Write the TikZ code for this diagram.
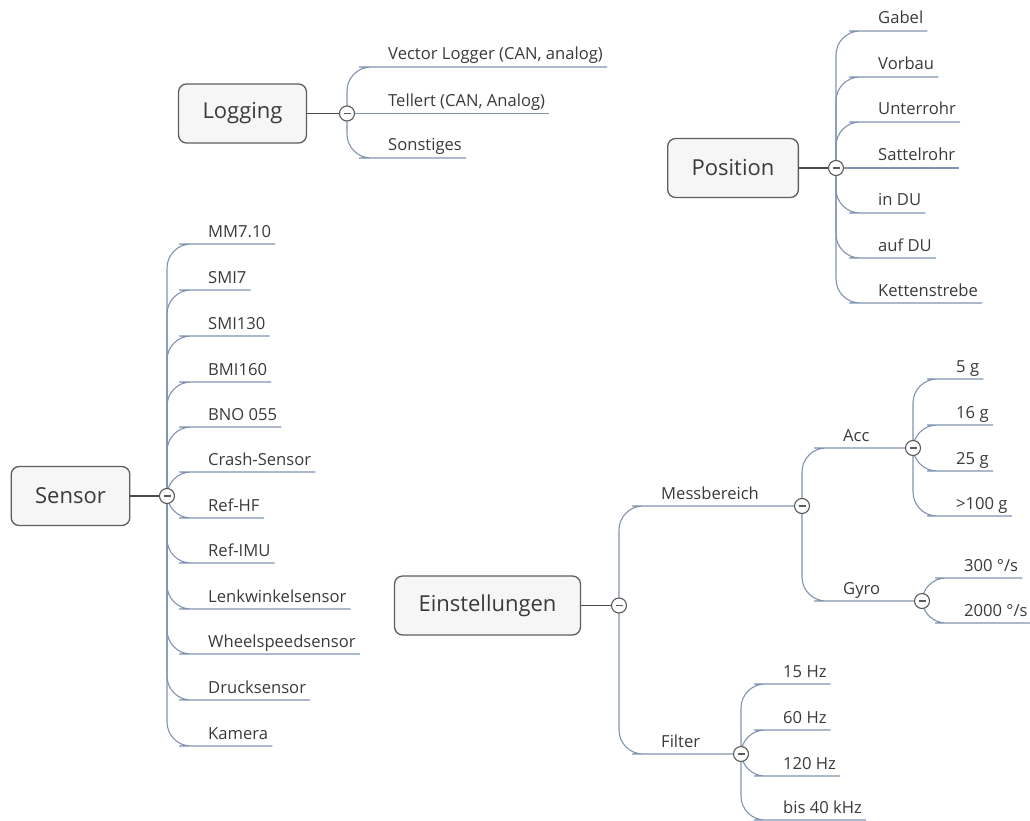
\documentclass[tikz,border=0pt]{standalone}
\usepackage{fontspec}
\setmainfont{Open Sans}
\usetikzlibrary{calc}
\definecolor{brc}{HTML}{7F93B0}
\definecolor{boxc}{HTML}{5E5E5E}
\definecolor{boxf}{HTML}{F6F6F6}
\definecolor{txt}{HTML}{3A3A3A}
\definecolor{mainc}{HTML}{4A4A4A}
\definecolor{togc}{HTML}{5A5A5A}
\newcommand\leaf[5]{%
  \node[lbl] (#1) at (#3,#4-7) {#5};
  \draw[br] (#2) |- ($(#1.base west)+(-5,7)$) -- ($(#1.base east)+(4,7)$);
}
\newcommand\leafh[5]{%
  \node[lbl] (#1) at (#3,#4-7) {#5};
  \draw[br] (#2) -- ($(#1.base west)+(-5,7)$) -- ($(#1.base east)+(4,7)$);
}
\begin{document}
\begin{tikzpicture}[x=1pt,y=-1pt,
  topic/.style={draw=boxc,fill=boxf,rounded corners=8pt,line width=1.3pt,
    font=\fontsize{22}{26}\selectfont,text=txt,minimum height=59pt,inner xsep=24pt},
  lbl/.style={font=\fontsize{16.6}{19}\selectfont,text=txt,inner sep=0pt,anchor=base west},
  br/.style={draw=brc,line width=1.1pt,rounded corners=24pt},
  mainln/.style={draw=mainc,line width=1.2pt},
  tog/.style={circle,draw=togc,fill=white,line width=1.1pt,minimum size=15pt,inner sep=0pt,
    path picture={\draw[togc,line width=1.5pt]
      ([xshift=-3.5pt]path picture bounding box.center) --
      ([xshift=3.5pt]path picture bounding box.center);}}
]
\useasboundingbox (0,0) rectangle (1030,821);

% ---------- main topics ----------
\node[topic] (log) at (242.5,113.5) {Logging};
\node[topic] (pos) at (733,168) {Position};
\node[topic] (sen) at (70.5,496) {Sensor};
\node[topic] (ein) at (487.5,605.5) {Einstellungen};

% ---------- toggle centres ----------
\coordinate (logT) at (347,113.5);
\coordinate (posT) at (836,168);
\coordinate (senT) at (167,496);
\coordinate (einT) at (619,605.5);
\coordinate (msT) at (802,506);
\coordinate (fiT) at (741,754);
\coordinate (acT) at (913,448);
\coordinate (gyT) at (922,601);

% ---------- Logging ----------
\leaf{lg1}{logT}{388}{67}{Vector Logger (CAN, analog)}
\leafh{lg2}{logT}{388}{113.5}{Tellert (CAN, Analog)}
\leaf{lg3}{logT}{388}{158}{Sonstiges}

% ---------- Position ----------
\leaf{ps1}{posT}{878}{31}{Gabel}
\leaf{ps2}{posT}{878}{77}{Vorbau}
\leaf{ps3}{posT}{878}{122}{Unterrohr}
\leafh{ps4}{posT}{878}{168}{Sattelrohr}
\leaf{ps5}{posT}{878}{213}{in DU}
\leaf{ps6}{posT}{878}{258}{auf DU}
\leaf{ps7}{posT}{878}{303}{Kettenstrebe}

% ---------- Sensor ----------
\leaf{sn1}{senT}{208}{244}{MM7.10}
\leaf{sn2}{senT}{208}{290}{SMI7}
\leaf{sn3}{senT}{208}{336}{SMI130}
\leaf{sn4}{senT}{208}{382}{BMI160}
\leaf{sn5}{senT}{208}{427}{BNO 055}
\leaf{sn6}{senT}{208}{472}{Crash-Sensor}
\leaf{sn7}{senT}{208}{518}{Ref-HF}
\leaf{sn8}{senT}{208}{563}{Ref-IMU}
\leaf{sn9}{senT}{208}{609}{Lenkwinkelsensor}
\leaf{sn10}{senT}{208}{654}{Wheelspeedsensor}
\leaf{sn11}{senT}{208}{700}{Drucksensor}
\leaf{sn12}{senT}{208}{746}{Kamera}

% ---------- Einstellungen ----------
\node[lbl] (ms) at (661,499) {Messbereich};
\draw[br] (einT) |- ($(ms.base west)+(-5,7)$) -- (msT);
\node[lbl] (fi) at (661,747) {Filter};
\draw[br] (einT) |- ($(fi.base west)+(-5,7)$) -- (fiT);

\node[lbl] (ac) at (843,441) {Acc};
\draw[br] (msT) |- ($(ac.base west)+(-5,7)$) -- (acT);
\node[lbl] (gy) at (843,594) {Gyro};
\draw[br] (msT) |- ($(gy.base west)+(-5,7)$) -- (gyT);

\leaf{ac1}{acT}{956}{379}{5 g}
\leaf{ac2}{acT}{956}{425}{16 g}
\leaf{ac3}{acT}{956}{471}{25 g}
\leaf{ac4}{acT}{956}{516}{>100 g}

\leaf{gy1}{gyT}{964}{578}{300 °/s}
\leaf{gy2}{gyT}{964}{623}{2000 °/s}

\leaf{fi1}{fiT}{783}{684}{15 Hz}
\leaf{fi2}{fiT}{783}{730}{60 Hz}
\leaf{fi3}{fiT}{783}{776}{120 Hz}
\leaf{fi4}{fiT}{783}{820}{bis 40 kHz}

% ---------- toggles (on top) ----------
\foreach \c in {logT,posT,senT,einT,msT,fiT,acT,gyT}{
  \node[tog] (\c c) at (\c) {};
}
\draw[mainln] (log) -- (logTc);
\draw[mainln] (pos) -- (posTc);
\draw[mainln] (sen) -- (senTc);
\draw[mainln] (ein) -- (einTc);
\end{tikzpicture}
\end{document}
